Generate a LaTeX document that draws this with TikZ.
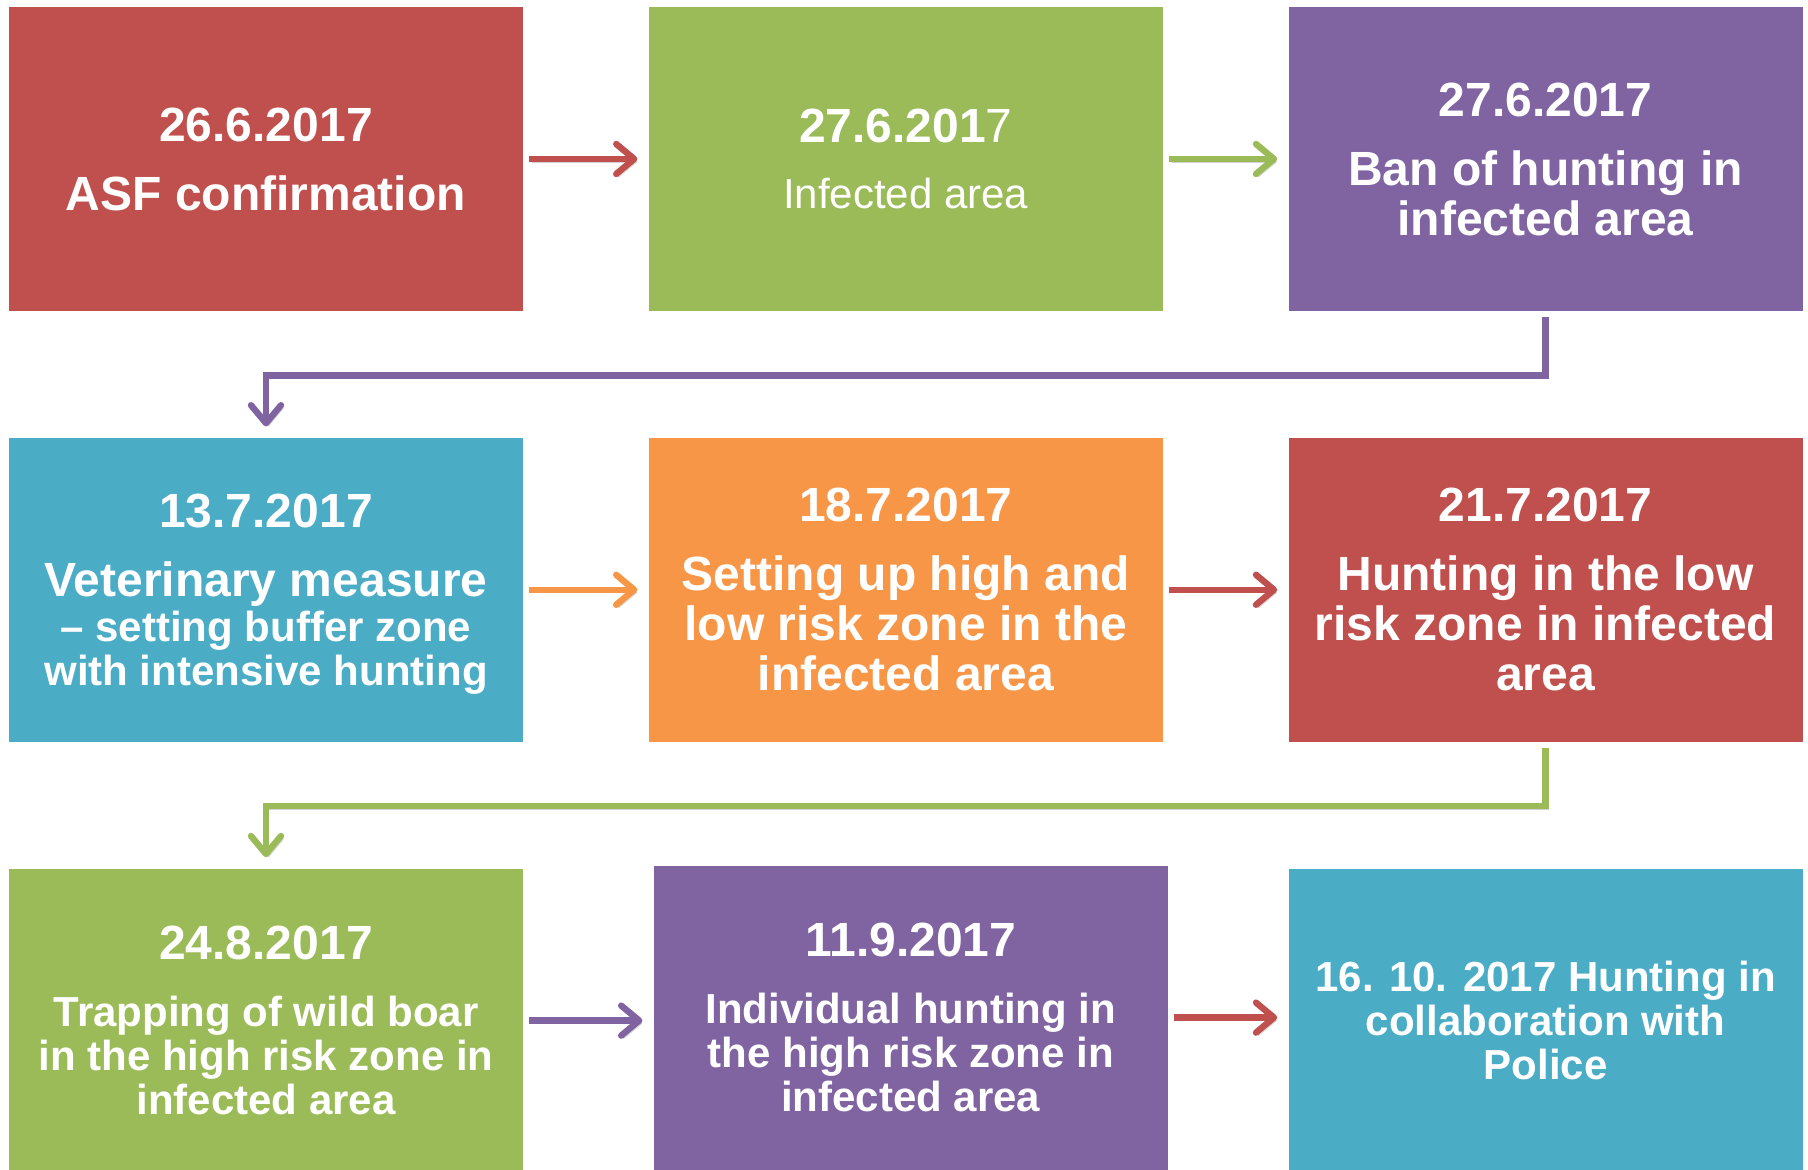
\documentclass[tikz,border=0pt]{standalone}
\usepackage{fontspec}
\setmainfont{Liberation Sans}
\usetikzlibrary{arrows.meta, positioning}
\definecolor{asf_red}{HTML}{C0504D}
\definecolor{asf_green}{HTML}{9BBB59}
\definecolor{asf_purple}{HTML}{8064A2}
\definecolor{asf_blue}{HTML}{4BACC6}
\definecolor{asf_orange}{HTML}{F79646}
\newcommand{\datefont}{\fontsize{24}{25}\selectfont}

\begin{document}
\begin{tikzpicture}[
    x=0.5pt, y=-0.5pt,
    node distance=63pt and 62.5pt,
    box/.style={minimum width=257pt, minimum height=152pt, inner sep=0pt,
                text=white, align=center,
                font=\fontsize{24}{25}\selectfont\bfseries},
    smallbox/.style={box, font=\fontsize{21}{22}\selectfont\bfseries},
    arr/.style={-{Straight Barb[length=9pt,width=15pt,round]}, line width=3.2pt,
                shorten <=3pt, shorten >=5.5pt,
                preaction={draw=black!30, opacity=0.6,
                           transform canvas={shift={(1.2pt,-1.5pt)}}}},
  ]
  \clip (0,0) rectangle (1808,1170);

  % first row
  \node[box, fill=asf_red] (b1) at (266,159) {26.6.2017\\[9.5pt]ASF confirmation};
  \node[box, fill=asf_green, right=of b1] (b2)
    {27.6.201{\mdseries 7}\\[8pt]{\mdseries\fontsize{21}{25}\selectfont Infected area}};
  \node[box, fill=asf_purple, right=of b2] (b3)
    {27.6.2017\\[9.5pt]Ban of hunting in\\infected area};

  % second row
  \node[box, fill=asf_blue, below=of b1] (b4)
    {\rule{0pt}{21.5pt}13.7.2017\\[9.5pt]Veterinary measure\\[-2.5pt]%
     {\fontsize{21}{22}\selectfont -- setting buffer zone}\\[-3pt]%
     {\fontsize{21}{22}\selectfont with intensive hunting}};
  \node[box, fill=asf_orange, right=of b4] (b5)
    {18.7.2017\\[9.5pt]Setting up high and\\low risk zone in the\\infected area};
  \node[box, fill=asf_red, right=of b5] (b6)
    {21.7.2017\\[9.5pt]Hunting in the low\\risk zone in infected\\area};

  % third row
  \node[smallbox, fill=asf_green, below=of b4] (b7)
    {{\datefont 24.8.2017}\\[11.5pt]Trapping of wild boar\\in the high risk zone in\\infected area};
  \node[smallbox, fill=asf_purple, right=of b7, xshift=2.5pt, yshift=1.5pt] (b8)
    {{\datefont 11.9.2017}\\[11.5pt]Individual hunting in\\the high risk zone in\\infected area};
  \node[smallbox, fill=asf_blue, below=of b6] (b9)
    {16. 10. 2017 Hunting in\\collaboration with\\Police};

  \draw[arr, asf_red]    (b1) -- (b2);
  \draw[arr, asf_green]  (b2) -- (b3);
  \draw[arr, asf_purple] (b3.south) -- ++(0,-32pt) -| (b4.north);
  \draw[arr, asf_orange] (b4) -- (b5);
  \draw[arr, asf_red]    (b5) -- (b6);
  \draw[arr, asf_green]  (b6.south) -- ++(0,-32pt) -| (b7.north);
  \draw[arr, asf_purple] (b7.east) -- (b7.east -| b8.west);
  \draw[arr, asf_red]    (b8.east) -- (b8.east -| b9.west);
\end{tikzpicture}
\end{document}
